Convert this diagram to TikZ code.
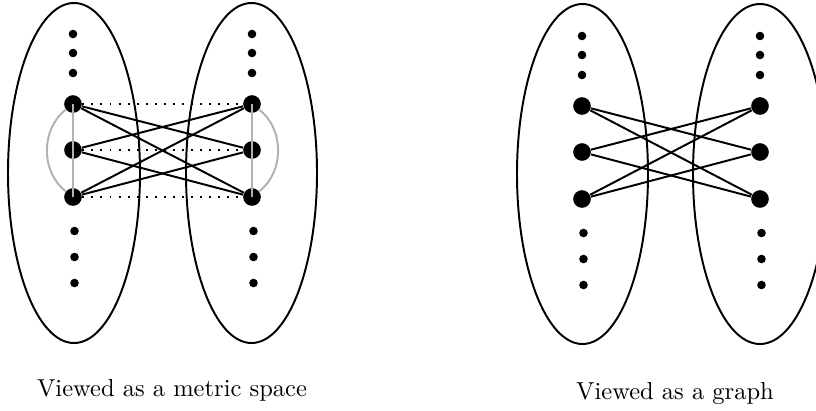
\documentclass[tikz,border=0pt]{standalone}
\usetikzlibrary{positioning}

\begin{document}
\begin{tikzpicture}[x=0.408pt,y=-0.408pt,
  bigpt/.style={circle,fill,inner sep=0pt,minimum size=7.2pt},
  smallpt/.style={circle,fill,inner sep=0pt,minimum size=3.5pt},
  part/.style={draw,line width=0.8pt},
  edge/.style={line width=0.8pt},
  metric/.style={gray!60,line width=0.8pt},
  dist/.style={line width=0.8pt,dash pattern=on 0.8pt off 2.9pt}]
  \useasboundingbox (0,0) rectangle (816,410);
  % the two halves of each picture
  \draw[part] (74,173) ellipse [x radius=66,y radius=170];
  \draw[part] (251.5,173) ellipse [x radius=65.5,y radius=170];
  \draw[part] (582.5,174) ellipse [x radius=65.5,y radius=170];
  \draw[part] (760,174) ellipse [x radius=67,y radius=170];
  % points
  \foreach \c/\x/\d in {mL/73/0,mR/252/0,gL/582/2,gR/760/2} {
    \foreach \i/\y in {1/104,2/150,3/197}
      \node[bigpt] (\c\i) at (\x,\y+\d) {};
    \foreach \i/\y in {1/34,2/53,3/73}
      \node[smallpt] (\c u\i) at (\x,\y+\d) {};
    \foreach \i/\y in {1/231,2/257,3/283}
      \node[smallpt] (\c d\i) at (\x+1.5,\y+\d) {};
  }
  % edges between the halves
  \foreach \a/\b in {1/2,1/3,2/1,2/3,3/1,3/2} {
    \draw[edge] (mL\a) -- (mR\b);
    \draw[edge] (gL\a) -- (gR\b);
  }
  \foreach \i in {1,2,3}
    \draw[dist] (mL\i) -- (mR\i);
  % distances inside each half
  \draw[metric] (mL1.center) -- (mL2.center) -- (mL3.center);
  \draw[metric] (mR1.center) -- (mR2.center) -- (mR3.center);
  \draw[metric] (mL1) to[bend right=52] (mL3);
  \draw[metric] (mR1) to[bend left=52] (mR3);
  \node[anchor=base] (mlabel) at (172,396) {Viewed as a metric space};
  \node[anchor=base] (glabel) at (675,399) {Viewed as a graph};
\end{tikzpicture}
\end{document}
